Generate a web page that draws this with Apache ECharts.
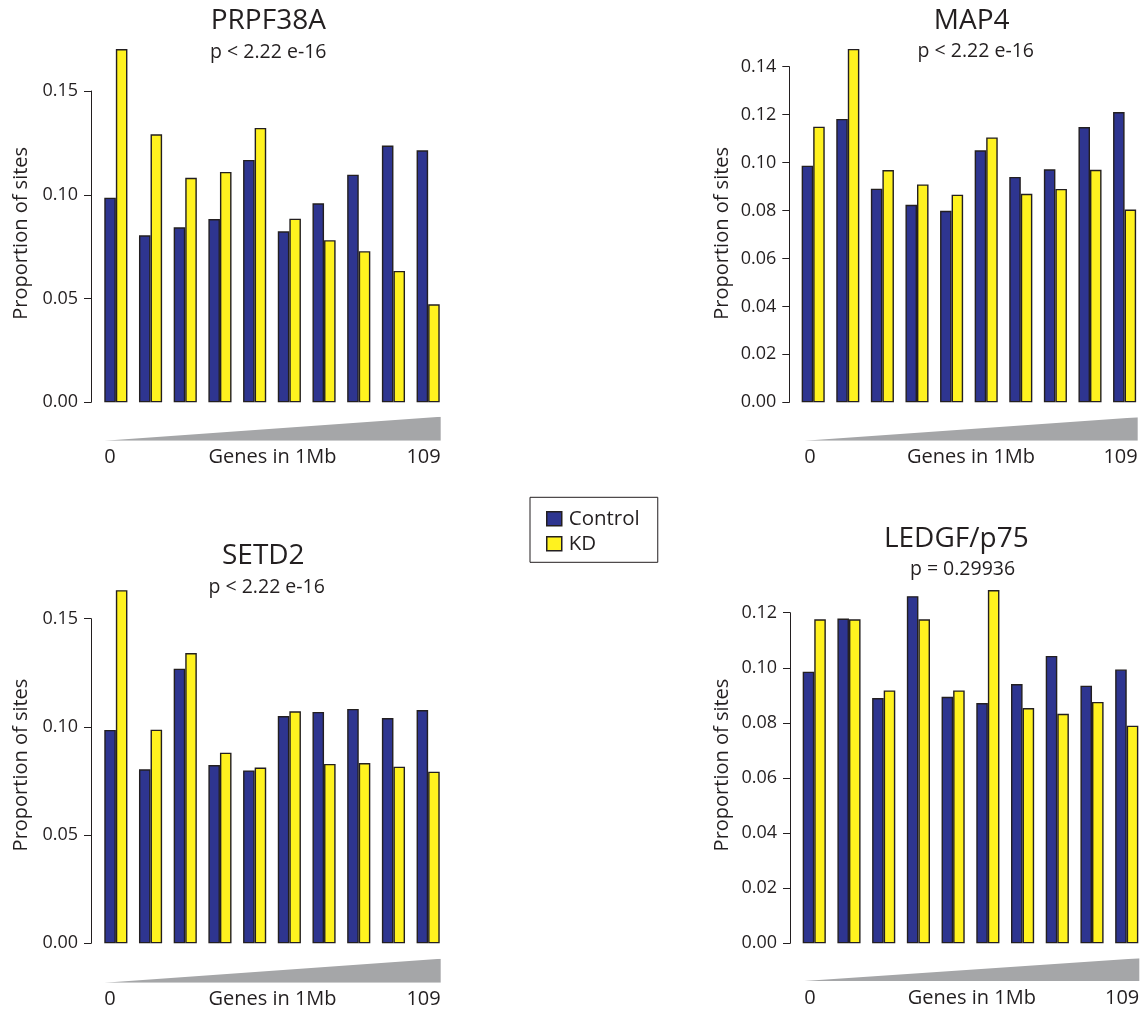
<!DOCTYPE html>
<html>
<head>
<meta charset="utf-8">
<script src="https://cdn.jsdelivr.net/npm/echarts@6/dist/echarts.min.js"></script>
<style>
html,body{margin:0;padding:0;background:#fff;}
#chart{width:1147px;height:1011px;}
</style>
</head>
<body>
<div id="chart"></div>
<script>
// ---- data ----
var categories = ['1','2','3','4','5','6','7','8','9','10'];
var panelTitles = ['PRPF38A', 'MAP4', 'SETD2', 'LEDGF/p75'];
var pValues = ['p < 2.22 e-16', 'p < 2.22 e-16', 'p < 2.22 e-16', 'p = 0.29936'];
var seriesNames = ['Control', 'KD'];
var prpf38aControl = [0.0986, 0.0805, 0.0843, 0.0883, 0.1168, 0.0824, 0.0959, 0.1097, 0.1237, 0.1214];
var prpf38aKD      = [0.1702, 0.1291, 0.1082, 0.1110, 0.1322, 0.0885, 0.0781, 0.0728, 0.0633, 0.0472];
var map4Control    = [0.0987, 0.1182, 0.0891, 0.0824, 0.0799, 0.1051, 0.0940, 0.0972, 0.1148, 0.1211];
var map4KD         = [0.1150, 0.1474, 0.0969, 0.0909, 0.0866, 0.1105, 0.0870, 0.0890, 0.0970, 0.0804];
var setd2Control   = [0.0986, 0.0804, 0.1269, 0.0824, 0.0799, 0.1050, 0.1069, 0.1083, 0.1041, 0.1078];
var setd2KD        = [0.1632, 0.0987, 0.1341, 0.0881, 0.0812, 0.1072, 0.0829, 0.0833, 0.0816, 0.0793];
var ledgfControl   = [0.0986, 0.1179, 0.0890, 0.1260, 0.0895, 0.0872, 0.0941, 0.1043, 0.0935, 0.0994];
var ledgfKD        = [0.1176, 0.1176, 0.0918, 0.1176, 0.0918, 0.1282, 0.0854, 0.0833, 0.0876, 0.0790];
var yMax = [0.15, 0.14, 0.15, 0.12];
var yInterval = [0.05, 0.02, 0.05, 0.02];
var genesMin = 0, genesMax = 109;
var genesLabel = 'Genes in 1Mb';
var yLabel = 'Proportion of sites';

var controlData = [prpf38aControl, map4Control, setd2Control, ledgfControl];
var kdData = [prpf38aKD, map4KD, setd2KD, ledgfKD];

// ---- layout (pixels) ----
var FONT = '"Open Sans", "Noto Sans", sans-serif';
var TXT = '#231f20';
var BLUE = '#2e3590', YELLOW = '#fff21f', GREY = '#a5a6a8';
var panels = [
  {gl: 98.5, gw: 347, gt: 91, gb: 402.3, axisX: 91,
   tl: 104.3, tw: 336.4, tt: 416.7, tb: 440.7,
   title: [268.3, 21], pv: [268.3, 52.5], yname: [21, 233.3]},
  {gl: 795.9, gw: 346, gt: 66.7, gb: 402.3, axisX: 789.3,
   tl: 804.3, tw: 333.4, tt: 417.3, tb: 440.7,
   title: [971.7, 21], pv: [975.8, 51.5], yname: [722, 233.3]},
  {gl: 98.5, gw: 347, gt: 618.7, gb: 943.3, axisX: 91,
   tl: 104.3, tw: 336.4, tt: 958.7, tb: 982.7,
   title: [263.3, 556], pv: [266.7, 587.5], yname: [21, 765]},
  {gl: 796.9, gw: 347.2, gt: 612.7, gb: 943.3, axisX: 790,
   tl: 804.3, tw: 335, tt: 958.3, tb: 981,
   title: [956.3, 539.3], pv: [962.5, 569], yname: [722, 765]}
];

var grid = [], xAxis = [], yAxis = [], series = [], graphic = [];

panels.forEach(function (p, i) {
  // bar grid
  grid.push({left: p.gl, top: p.gt, width: p.gw, height: p.gb - p.gt, containLabel: false, outerBoundsMode: 'none'});
  xAxis.push({type: 'category', gridIndex: 2 * i, data: categories,
    axisLine: {show: false}, axisTick: {show: false}, axisLabel: {show: false}, splitLine: {show: false}});
  yAxis.push({type: 'value', gridIndex: 2 * i, min: 0, max: yMax[i], interval: yInterval[i],
    offset: p.gl - p.axisX,
    axisLine: {show: true, lineStyle: {color: TXT, width: 1}},
    axisTick: {show: true, length: 7, lineStyle: {color: TXT, width: 1}},
    splitLine: {show: false},
    axisLabel: {color: TXT, fontFamily: FONT, fontSize: 18, margin: 13,
      formatter: function (v) { return v.toFixed(2); }}});
  series.push({type: 'bar', name: seriesNames[0], xAxisIndex: 2 * i, yAxisIndex: 2 * i,
    data: controlData[i], barGap: '0%', barCategoryGap: '33.333%', clip: false,
    itemStyle: {color: BLUE, borderColor: TXT, borderWidth: 1.4}, emphasis: {disabled: true}});
  series.push({type: 'bar', name: seriesNames[1], xAxisIndex: 2 * i, yAxisIndex: 2 * i,
    data: kdData[i], barGap: '0%', barCategoryGap: '33.333%', clip: false,
    itemStyle: {color: YELLOW, borderColor: TXT, borderWidth: 1.4}, emphasis: {disabled: true}});

  // gradient triangle grid
  grid.push({left: p.tl, top: p.tt, width: p.tw, height: p.tb - p.tt, containLabel: false, outerBoundsMode: 'none'});
  xAxis.push({type: 'value', gridIndex: 2 * i + 1, min: genesMin, max: genesMax, interval: genesMax - genesMin,
    axisLine: {show: false}, axisTick: {show: false}, splitLine: {show: false},
    axisLabel: {color: TXT, fontFamily: FONT, fontSize: 20, margin: 7,
      alignMinLabel: 'left', alignMaxLabel: 'right'},
    name: genesLabel, nameLocation: 'middle', nameGap: 7, nameMoveOverlap: false,
    nameTextStyle: {color: TXT, fontFamily: FONT, fontSize: 20, verticalAlign: 'top'}});
  yAxis.push({type: 'value', gridIndex: 2 * i + 1, min: 0, max: 1, show: false});
  series.push({type: 'line', name: 'gradient' + i, xAxisIndex: 2 * i + 1, yAxisIndex: 2 * i + 1,
    data: [[genesMin, 0], [genesMax, 1]], showSymbol: false, symbol: 'none',
    lineStyle: {width: 0, color: GREY}, areaStyle: {color: GREY, opacity: 1},
    emphasis: {disabled: true}, silent: true});

  graphic.push({type: 'text', x: p.title[0], y: p.title[1],
    style: {text: panelTitles[i], fill: TXT, font: '28px ' + FONT, align: 'center', verticalAlign: 'middle'}});
  graphic.push({type: 'text', x: p.pv[0], y: p.pv[1],
    style: {text: pValues[i], fill: TXT, font: '19.5px ' + FONT, align: 'center', verticalAlign: 'middle'}});
  graphic.push({type: 'text', x: p.yname[0], y: p.yname[1], rotation: Math.PI / 2,
    style: {text: yLabel, fill: TXT, font: '20px ' + FONT, align: 'center', verticalAlign: 'middle'}});
});

var option = {
  backgroundColor: '#ffffff',
  animation: false,
  grid: grid, xAxis: xAxis, yAxis: yAxis, series: series,
  legend: {
    data: seriesNames, orient: 'vertical', left: 530, top: 497.3,
    backgroundColor: '#fff',
    borderColor: TXT, borderWidth: 1,
    padding: [11, 18, 8, 16],
    itemWidth: 15, itemHeight: 14, itemGap: 4,
    icon: 'rect',
    itemStyle: {borderColor: TXT, borderWidth: 1.5},
    textStyle: {color: TXT, fontFamily: FONT, fontSize: 20.5, padding: [0, 0, 0, 2]},
    selectedMode: false
  },
  graphic: graphic
};

var chart = echarts.init(document.getElementById('chart'), null, {renderer: 'canvas'});
chart.setOption(option);
</script>
</body>
</html>
